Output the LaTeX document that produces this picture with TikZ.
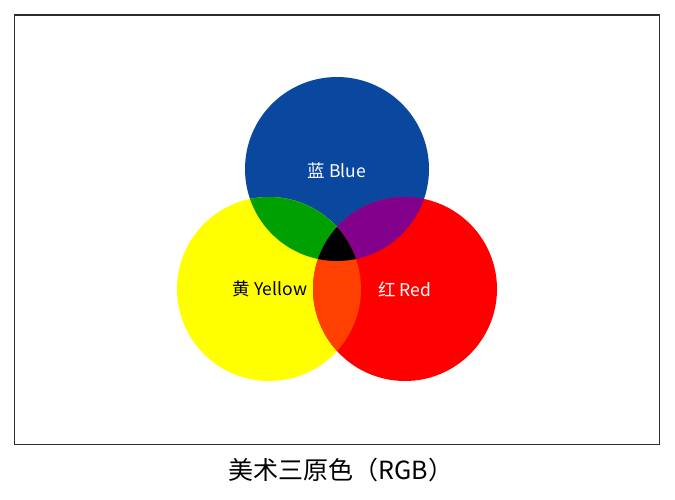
\documentclass[tikz,border=0pt]{standalone}
\usepackage{fontspec}
\setmainfont{Noto Sans CJK SC}
\definecolor{rgbBlue}{RGB}{10,72,160}
\definecolor{rgbYellow}{RGB}{255,255,0}
\definecolor{rgbRed}{RGB}{255,0,0}
\definecolor{rgbGreen}{RGB}{0,160,0}
\definecolor{rgbPurple}{RGB}{130,0,140}
\definecolor{rgbOrange}{RGB}{255,64,0}
\definecolor{frameGray}{RGB}{45,45,45}
\tikzset{
    label text/.style={font=\fontsize{17.5}{19}\selectfont, inner sep=0pt},
}
\begin{document}
\begin{tikzpicture}[x=1pt, y=-1pt]
            % Fix the page size
            \useasboundingbox (0,0) rectangle (675,500);

            % Define the outer frame
            \draw[line width=1.5pt, frameGray] (14.5,15) rectangle (659.5,444.5);

            % Define the three primary circles
            \coordinate (B) at (337,169);
            \coordinate (Y) at (269,289);
            \coordinate (R) at (405,289);
            \fill[rgbBlue] (B) circle (92);
            \fill[rgbYellow] (Y) circle (92);
            \fill[rgbRed] (R) circle (92);

            % Fill the overlaps
            \begin{scope}
                \clip (B) circle (92);
                \fill[rgbGreen] (Y) circle (92);
                \fill[rgbPurple] (R) circle (92);
            \end{scope}
            \begin{scope}
                \clip (Y) circle (92);
                \fill[rgbOrange] (R) circle (92);
                \clip (R) circle (92);
                \fill[black] (B) circle (92);
            \end{scope}

            % Label the circles
            \node[label text, white] (blueLabel) at (337,171) {蓝 Blue};
            \node[label text, black] (yellowLabel) at (270,289) {黄 Yellow};
            \node[label text, white] (redLabel) at (405,289) {红 Red};

            % Caption
            \node[font=\fontsize{25}{28}\selectfont, inner sep=0pt] (caption) at (341,470) {美术三原色（RGB）};

        \end{tikzpicture}
\end{document}
